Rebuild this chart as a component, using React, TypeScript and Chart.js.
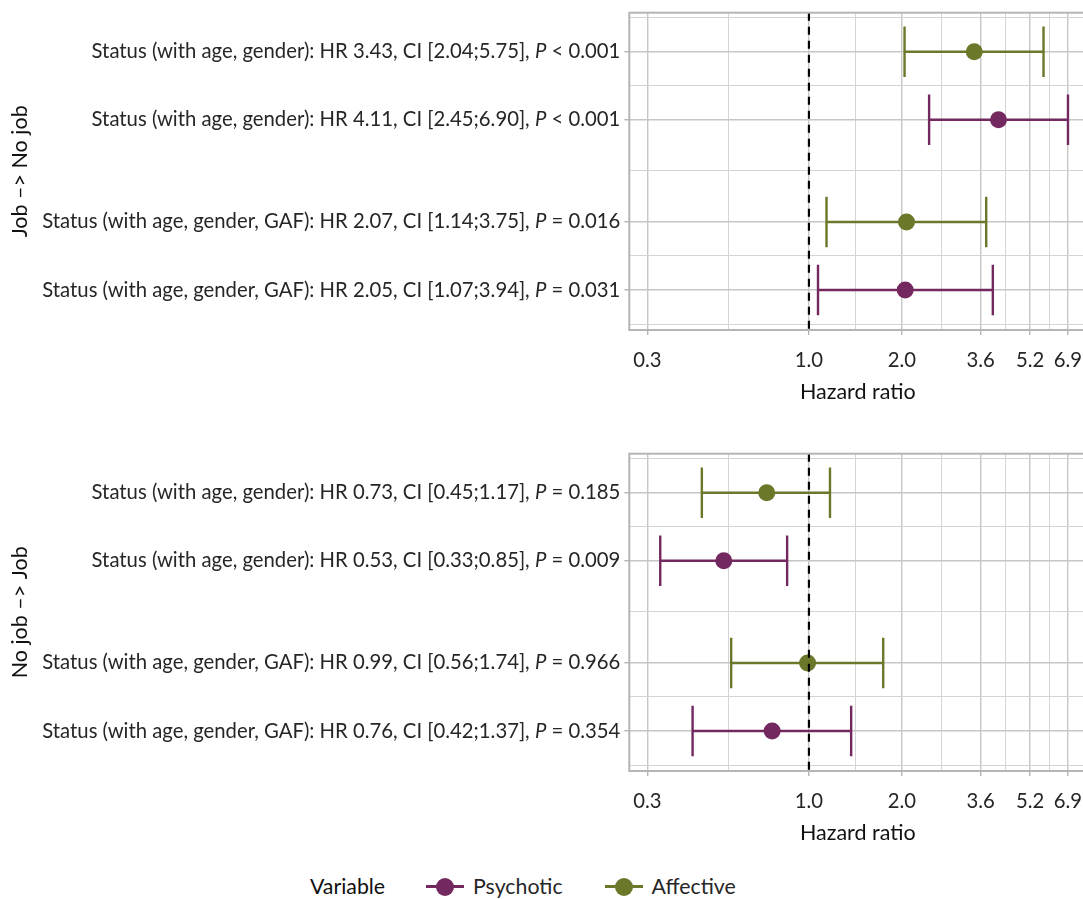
import React, { useEffect, useRef } from 'react';
import { Chart, registerables } from 'chart.js';

Chart.register(...registerables);

const FONT = 'Lato, "Noto Sans", sans-serif';

// ---- data ----
const rowPositions = [1, 2, 3.5, 4.5];
const rowVariable = ['Affective', 'Psychotic', 'Affective', 'Psychotic'];
const rowCovariates = ['age, gender', 'age, gender', 'age, gender, GAF', 'age, gender, GAF'];

const jobToNoJobTitle = 'Job –> No job';
const jobToNoJobHR = [3.43, 4.11, 2.07, 2.05];
const jobToNoJobLow = [2.04, 2.45, 1.14, 1.07];
const jobToNoJobHigh = [5.75, 6.9, 3.75, 3.94];
const jobToNoJobP = ['< 0.001', '< 0.001', '= 0.016', '= 0.031'];

const noJobToJobTitle = 'No job –> Job';
const noJobToJobHR = [0.73, 0.53, 0.99, 0.76];
const noJobToJobLow = [0.45, 0.33, 0.56, 0.42];
const noJobToJobHigh = [1.17, 0.85, 1.74, 1.37];
const noJobToJobP = ['= 0.185', '= 0.009', '= 0.966', '= 0.354'];

const xTicks = [0.3, 1.0, 2.0, 3.6, 5.2, 6.9];
const yMinorTicks = [0.5, 1.5, 2.75, 4, 5];
const variables = ['Psychotic', 'Affective'];
const variableColors: Record<string, string> = { Psychotic: '#73285f', Affective: '#6b7729' };

// ---- layout / style ----
const X_MIN = 0.262;
const X_MAX = 7.91;
const Y_MIN = 0.427;
const Y_MAX = 5.087;
const CAP = 0.37;
const CANVAS_W = 1100;
const CANVAS_H = 420;
const LABEL_SIZE = 20.3;
const TITLE_SIZE = 21.5;
const xMinorTicks = xTicks.slice(1).map((v, i) => Math.sqrt(v * xTicks[i]));
const allXTicks = [...xTicks, ...xMinorTicks].sort((a, b) => a - b);
const allYTicks = [...rowPositions, ...yMinorTicks].sort((a, b) => a - b);
const isMajorX = (v: number) => xTicks.some((t) => Math.abs(t - v) < 1e-9);
const isMajorY = (v: number) => rowPositions.some((t) => Math.abs(t - v) < 1e-9);

function makePanelPlugin(hr: number[], lo: number[], hi: number[], p: string[]) {
  return {
    id: 'forestPanel',
    beforeDatasetsDraw(chart: any) {
      const { ctx } = chart;
      const xs = chart.scales.x;
      const ys = chart.scales.y;
      rowPositions.forEach((pos, i) => {
        const color = variableColors[rowVariable[i]];
        const yc = ys.getPixelForValue(pos);
        const yt = ys.getPixelForValue(pos - CAP);
        const yb = ys.getPixelForValue(pos + CAP);
        const x0 = xs.getPixelForValue(lo[i]);
        const x1 = xs.getPixelForValue(hi[i]);
        ctx.save();
        ctx.strokeStyle = color;
        ctx.lineWidth = 2.4;
        ctx.beginPath();
        ctx.moveTo(x0, yc);
        ctx.lineTo(x1, yc);
        ctx.moveTo(x0, yt);
        ctx.lineTo(x0, yb);
        ctx.moveTo(x1, yt);
        ctx.lineTo(x1, yb);
        ctx.stroke();
        ctx.restore();
      });
    },
    afterDatasetsDraw(chart: any) {
      const { ctx, chartArea } = chart;
      const xs = chart.scales.x;
      const x1 = xs.getPixelForValue(1);
      ctx.save();
      ctx.strokeStyle = '#000';
      ctx.lineWidth = 2.2;
      ctx.setLineDash([8, 6]);
      ctx.beginPath();
      ctx.moveTo(x1, chartArea.top);
      ctx.lineTo(x1, chartArea.bottom);
      ctx.stroke();
      ctx.setLineDash([]);
      ctx.strokeStyle = '#b5b5b5';
      ctx.lineWidth = 2;
      ctx.strokeRect(chartArea.left, chartArea.top, chartArea.right - chartArea.left, chartArea.bottom - chartArea.top);
      ctx.restore();
    },
    afterDraw(chart: any) {
      const { ctx, chartArea } = chart;
      const ys = chart.scales.y;
      const normal = `${LABEL_SIZE}px ${FONT}`;
      const italic = `italic ${LABEL_SIZE}px ${FONT}`;
      ctx.save();
      ctx.fillStyle = '#262626';
      ctx.textBaseline = 'middle';
      ctx.textAlign = 'left';
      rowPositions.forEach((pos, i) => {
        const y = ys.getPixelForValue(pos);
        const prefix = `Status (with ${rowCovariates[i]}): HR ${hr[i].toFixed(2)}, CI [${lo[i].toFixed(2)};${hi[i].toFixed(2)}], `;
        const pText = 'P';
        const suffix = ` ${p[i]}`;
        ctx.font = normal;
        const wPre = ctx.measureText(prefix).width;
        const wSuf = ctx.measureText(suffix).width;
        ctx.font = italic;
        const wP = ctx.measureText(pText).width;
        const end = chartArea.left - 9;
        let x = end - (wPre + wP + wSuf);
        ctx.font = normal;
        ctx.fillText(prefix, x, y);
        x += wPre;
        ctx.font = italic;
        ctx.fillText(pText, x, y);
        x += wP;
        ctx.font = normal;
        ctx.fillText(suffix, x, y);
      });
      ctx.restore();
    },
  };
}

function makeConfig(title: string, hr: number[], lo: number[], hi: number[], p: string[]): any {
  return {
    type: 'scatter',
    data: {
      datasets: variables.map((v) => ({
        label: v,
        data: rowPositions
          .map((pos, i) => ({ x: hr[i], y: pos, v: rowVariable[i] }))
          .filter((d) => d.v === v)
          .map((d) => ({ x: d.x, y: d.y })),
        backgroundColor: variableColors[v],
        borderColor: variableColors[v],
        borderWidth: 0,
        pointRadius: 8.5,
        pointHoverRadius: 8.5,
      })),
    },
    options: {
      animation: false,
      responsive: false,
      devicePixelRatio: 1,
      events: [],
      layout: { padding: { top: 12.7, right: CANVAS_W - 1086.3, bottom: 0, left: 0 } },
      plugins: { legend: { display: false }, tooltip: { enabled: false } },
      scales: {
        x: {
          type: 'logarithmic',
          min: X_MIN,
          max: X_MAX,
          bounds: 'data',
          afterBuildTicks: (s: any) => {
            s.ticks = allXTicks.map((v) => ({ value: v }));
          },
          afterFit: (s: any) => {
            s.height = CANVAS_H - 330;
          },
          ticks: {
            autoSkip: false,
            maxRotation: 0,
            minRotation: 0,
            padding: 13.5,
            color: '#262626',
            font: { family: FONT, size: LABEL_SIZE },
            callback: (v: number) => (isMajorX(v) ? Number(v).toFixed(1) : ''),
          },
          grid: {
            color: (c: any) => (c.tick && isMajorX(c.tick.value) ? '#c6c6c6' : '#d4d4d4'),
            lineWidth: (c: any) => (c.tick && isMajorX(c.tick.value) ? 1.4 : 1),
            tickLength: 5,
            tickColor: (c: any) => (c.tick && isMajorX(c.tick.value) ? '#b5b5b5' : 'rgba(0,0,0,0)'),
          },
          border: { display: false },
          title: {
            display: true,
            text: 'Hazard ratio',
            color: '#111',
            font: { family: FONT, size: TITLE_SIZE },
            padding: { top: 0, bottom: 15.5 },
          },
        },
        y: {
          type: 'linear',
          reverse: true,
          min: Y_MIN,
          max: Y_MAX,
          bounds: 'data',
          afterBuildTicks: (s: any) => {
            s.ticks = allYTicks.map((v) => ({ value: v }));
          },
          afterFit: (s: any) => {
            s.width = 629.3;
          },
          ticks: { display: false },
          grid: {
            color: (c: any) => (c.tick && isMajorY(c.tick.value) ? '#c6c6c6' : '#d4d4d4'),
            lineWidth: (c: any) => (c.tick && isMajorY(c.tick.value) ? 1.4 : 1),
            tickLength: 5,
            tickColor: (c: any) => (c.tick && isMajorY(c.tick.value) ? '#b5b5b5' : 'rgba(0,0,0,0)'),
          },
          border: { display: false },
          title: {
            display: true,
            text: title,
            color: '#111',
            font: { family: FONT, size: TITLE_SIZE },
            padding: { top: 7, bottom: 0 },
          },
        },
      },
    },
    plugins: [makePanelPlugin(hr, lo, hi, p)],
  };
}

function Panel(props: { top: number; title: string; hr: number[]; lo: number[]; hi: number[]; p: string[] }) {
  const ref = useRef<HTMLCanvasElement | null>(null);
  useEffect(() => {
    if (!ref.current) return;
    const chart = new Chart(ref.current, makeConfig(props.title, props.hr, props.lo, props.hi, props.p));
    return () => chart.destroy();
  }, []);
  return (
    <canvas
      ref={ref}
      width={CANVAS_W}
      height={CANVAS_H}
      style={{ position: 'absolute', left: 0, top: props.top, width: CANVAS_W, height: CANVAS_H }}
    />
  );
}

function LegendKey(props: { color: string }) {
  return (
    <span style={{ position: 'relative', display: 'inline-block', width: 38, height: 20 }}>
      <span
        style={{
          position: 'absolute',
          left: 0,
          right: 0,
          top: 9,
          height: 2.5,
          background: props.color,
        }}
      />
      <span
        style={{
          position: 'absolute',
          left: 10,
          top: 1.5,
          width: 18,
          height: 18,
          borderRadius: '50%',
          background: props.color,
        }}
      />
    </span>
  );
}

export default function App() {
  return (
    <div
      style={{
        position: 'absolute',
        left: 0,
        top: 0,
        width: 1083,
        height: 899,
        overflow: 'hidden',
        background: '#fff',
        fontFamily: FONT,
      }}
    >
      <Panel top={0} title={jobToNoJobTitle} hr={jobToNoJobHR} lo={jobToNoJobLow} hi={jobToNoJobHigh} p={jobToNoJobP} />
      <Panel top={441} title={noJobToJobTitle} hr={noJobToJobHR} lo={noJobToJobLow} hi={noJobToJobHigh} p={noJobToJobP} />
      <div
        style={{
          position: 'absolute',
          left: 310,
          top: 873,
          height: 26,
          display: 'flex',
          alignItems: 'center',
          fontSize: 21.3,
          whiteSpace: 'nowrap',
        }}
      >
        <span style={{ color: '#111', marginRight: 41 }}>Variable</span>
        <LegendKey color={variableColors.Psychotic} />
        <span style={{ color: '#262626', marginLeft: 9, marginRight: 42 }}>Psychotic</span>
        <LegendKey color={variableColors.Affective} />
        <span style={{ color: '#262626', marginLeft: 9 }}>Affective</span>
      </div>
    </div>
  );
}
